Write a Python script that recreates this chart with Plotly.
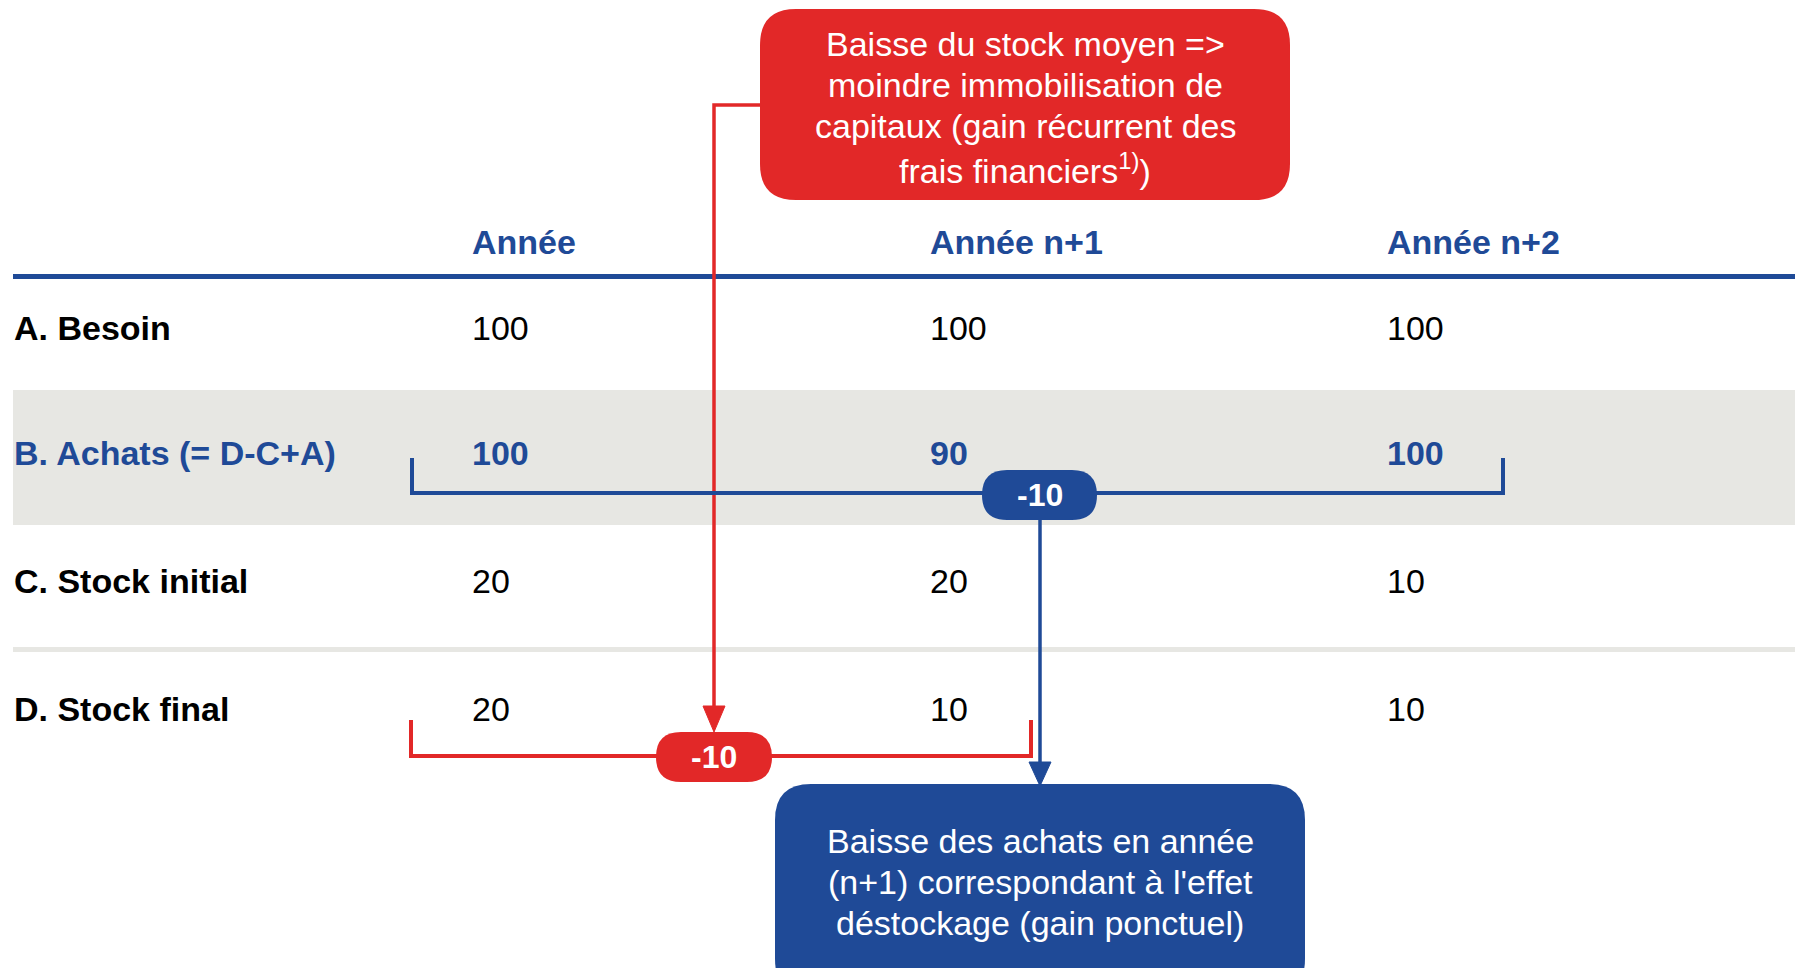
import plotly.graph_objects as go

W, H = 1795, 968
BLUE = "#1F4A97"
RED = "#E22828"
GRAY = "#E7E7E3"
FONT = "Liberation Sans, Arial, sans-serif"
FS = 34

# ---- data ----
columns = ["Année", "Année n+1", "Année n+2"]
row_labels = ["A. Besoin", "B. Achats (= D-C+A)", "C. Stock initial", "D. Stock final"]
besoin = [100, 100, 100]
achats = [100, 90, 100]
stock_initial = [20, 20, 10]
stock_final = [20, 10, 10]
delta_achats = "-10"
delta_stock = "-10"
note_red_lines = ["Baisse du stock moyen =>", "moindre immobilisation de",
                  "capitaux (gain récurrent des", "frais financiers<sup>1)</sup>)"]
note_blue_lines = ["Baisse des achats en année", "(n+1) correspondant à l'effet",
                   "déstockage (gain ponctuel)"]

# layout geometry (pixels)
col_x = [472, 930, 1387]
label_x = 14
header_y = 245
row_y = [331, 456, 584, 712]
red_note_y = [44, 85, 126, 168]
blue_note_y = [841, 882, 923]

rows = [besoin, achats, stock_initial, stock_final]


def rrect(x0, y0, x1, y1, r):
    return (f"M {x0+r},{y0} L {x1-r},{y0} Q {x1},{y0} {x1},{y0+r} "
            f"L {x1},{y1-r} Q {x1},{y1} {x1-r},{y1} L {x0+r},{y1} "
            f"Q {x0},{y1} {x0},{y1-r} L {x0},{y0+r} Q {x0},{y0} {x0+r},{y0} Z")


fig = go.Figure()
shapes = []

# gray band for row B and separator
shapes.append(dict(type="rect", x0=13, x1=W, y0=390, y1=525, fillcolor=GRAY, line_width=0, layer="below"))
shapes.append(dict(type="rect", x0=13, x1=W, y0=647, y1=652, fillcolor=GRAY, line_width=0, layer="below"))
# header line
shapes.append(dict(type="rect", x0=13, x1=W, y0=274, y1=279, fillcolor=BLUE, line_width=0))

# red connector from red box to red pill
shapes.append(dict(type="path", path="M 760,105 L 714,105 L 714,708", line=dict(color=RED, width=3.5)))
shapes.append(dict(type="path", path="M 703,706 L 725,706 L 714,732 Z", fillcolor=RED, line=dict(color=RED, width=1)))

# blue bracket
shapes.append(dict(type="path", path="M 412,458 L 412,493 L 1503,493 L 1503,458", line=dict(color=BLUE, width=4)))
# blue connector
shapes.append(dict(type="path", path="M 1040,515 L 1040,764", line=dict(color=BLUE, width=3.5)))
shapes.append(dict(type="path", path="M 1029,762 L 1051,762 L 1040,786 Z", fillcolor=BLUE, line=dict(color=BLUE, width=1)))

# red bracket
shapes.append(dict(type="path", path="M 411,720 L 411,756 L 1031,756 L 1031,720", line=dict(color=RED, width=4)))

# pills
shapes.append(dict(type="path", path=rrect(982, 470, 1097, 520, 25), fillcolor=BLUE, line_width=0))
shapes.append(dict(type="path", path=rrect(656, 732, 772, 782, 25), fillcolor=RED, line_width=0))

# callout boxes
shapes.append(dict(type="path", path=rrect(760, 9, 1290, 200, 36), fillcolor=RED, line_width=0))
shapes.append(dict(type="path", path=rrect(775, 784, 1305, 995, 36), fillcolor=BLUE, line_width=0))

# header texts
fig.add_trace(go.Scatter(x=col_x, y=[header_y] * 3, mode="text", text=[f"<b>{c}</b>" for c in columns],
                         textposition="middle right", textfont=dict(family=FONT, size=FS, color=BLUE),
                         hoverinfo="skip", showlegend=False))

# row labels
label_colors = ["black", BLUE, "black", "black"]
fig.add_trace(go.Scatter(x=[label_x] * 4, y=row_y, mode="text",
                         text=[f"<b>{l}</b>" for l in row_labels],
                         textposition="middle right",
                         textfont=dict(family=FONT, size=FS, color=label_colors),
                         hoverinfo="skip", showlegend=False))

# values
for i, vals in enumerate(rows):
    bold = (i == 1)
    txt = [f"<b>{v}</b>" if bold else str(v) for v in vals]
    fig.add_trace(go.Scatter(x=col_x, y=[row_y[i]] * 3, mode="text", text=txt,
                             textposition="middle right",
                             textfont=dict(family=FONT, size=FS, color=BLUE if bold else "black"),
                             hoverinfo="skip", showlegend=False))

annotations = [
    dict(x=1039.5, y=495, text=f"<b>{delta_achats}</b>", showarrow=False,
         font=dict(family=FONT, size=32, color="white"), xanchor="center", yanchor="middle"),
    dict(x=714, y=757, text=f"<b>{delta_stock}</b>", showarrow=False,
         font=dict(family=FONT, size=32, color="white"), xanchor="center", yanchor="middle"),
]
for t, y in zip(note_red_lines, red_note_y):
    annotations.append(dict(x=1025, y=y, text=t, showarrow=False,
                            font=dict(family=FONT, size=FS, color="white"),
                            xanchor="center", yanchor="middle"))
for t, y in zip(note_blue_lines, blue_note_y):
    annotations.append(dict(x=1040, y=y, text=t, showarrow=False,
                            font=dict(family=FONT, size=FS, color="white"),
                            xanchor="center", yanchor="middle"))

fig.update_layout(
    width=W, height=H,
    margin=dict(l=0, r=0, t=0, b=0),
    paper_bgcolor="white", plot_bgcolor="white",
    xaxis=dict(range=[0, W], visible=False, fixedrange=True),
    yaxis=dict(range=[H, 0], visible=False, fixedrange=True),
    shapes=shapes, annotations=annotations,
    showlegend=False,
)

fig.write_html("out.html", config={"displayModeBar": False},
               post_script="document.body.style.margin='0';document.body.style.overflow='hidden';")
